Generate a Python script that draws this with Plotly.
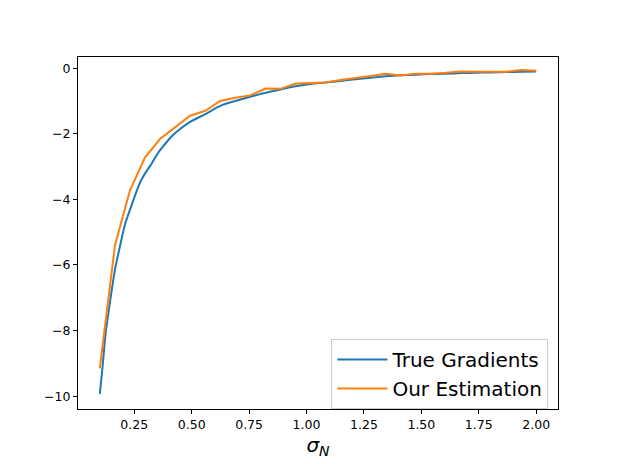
import plotly.graph_objects as go

# true gradient curve
sigma_true = [0.100, 0.112, 0.125, 0.146, 0.167, 0.189, 0.210, 0.233, 0.255, 0.276,
              0.298, 0.320, 0.356, 0.395, 0.428, 0.493, 0.559, 0.624, 0.690, 0.755,
              0.821, 0.886, 0.952, 1.017, 1.083, 1.148, 1.214, 1.279, 1.345, 1.410,
              1.476, 1.541, 1.607, 1.672, 1.738, 1.803, 1.869, 1.934, 2.000]
grad_true = [-9.93, -9.10, -8.10, -7.05, -6.10, -5.39, -4.75, -4.28, -3.85, -3.47,
             -3.20, -2.97, -2.56, -2.22, -1.98, -1.64, -1.40, -1.15, -1.00, -0.87,
             -0.75, -0.65, -0.55, -0.48, -0.44, -0.39, -0.34, -0.29, -0.25, -0.22,
             -0.20, -0.18, -0.17, -0.15, -0.14, -0.13, -0.12, -0.11, -0.10]

# estimated gradients, 30 points between 0.1 and 2.0
sigma_est = [0.100, 0.166, 0.231, 0.297, 0.362, 0.428, 0.493, 0.559, 0.624, 0.690,
             0.755, 0.821, 0.886, 0.952, 1.017, 1.083, 1.148, 1.214, 1.279, 1.345,
             1.410, 1.476, 1.541, 1.607, 1.672, 1.738, 1.803, 1.869, 1.934, 2.000]
grad_est = [-9.15, -5.40, -3.73, -2.72, -2.16, -1.81, -1.45, -1.30, -1.00, -0.90,
            -0.83, -0.62, -0.63, -0.47, -0.46, -0.44, -0.36, -0.31, -0.24, -0.17,
            -0.22, -0.17, -0.17, -0.14, -0.10, -0.11, -0.11, -0.11, -0.06, -0.08]

font = "DejaVu Sans, Arial, sans-serif"

fig = go.Figure()
fig.add_trace(go.Scatter(x=sigma_true, y=grad_true, mode="lines", name="True Gradients",
                         line=dict(color="#1f77b4", width=2, shape="spline", smoothing=0.6)))
fig.add_trace(go.Scatter(x=sigma_est, y=grad_est, mode="lines", name="Our Estimation",
                         line=dict(color="#ff7f0e", width=2)))

axis_style = dict(showgrid=False, zeroline=False, showline=True, linecolor="black",
                  linewidth=1, mirror=True, ticks="outside", ticklen=4, tickwidth=1,
                  tickcolor="black", tickfont=dict(family=font, size=12.5, color="black"))

# page body has an 8px margin, so the figure is a bit smaller than the window
fig.update_layout(
    width=612, height=456,
    margin=dict(l=70, r=62, t=49, b=53),
    plot_bgcolor="white", paper_bgcolor="white",
    font=dict(family=font, color="black"),
    xaxis=dict(range=[0.005, 2.095], tick0=0, dtick=0.25, tickformat=".2f",
               title=dict(text="<i>σ<sub>N</sub></i>", font=dict(family=font, size=20),
                          standoff=6),
               **axis_style),
    yaxis=dict(range=[-10.39, 0.34], tick0=0, dtick=2, **axis_style),
    legend=dict(x=0.98, y=0.0, xanchor="right", yanchor="bottom",
                bgcolor="rgba(255,255,255,0.8)", bordercolor="#cccccc", borderwidth=1,
                font=dict(family=font, size=20), itemwidth=50, tracegroupgap=0),
    showlegend=True,
)

fig.write_html("out.html")
